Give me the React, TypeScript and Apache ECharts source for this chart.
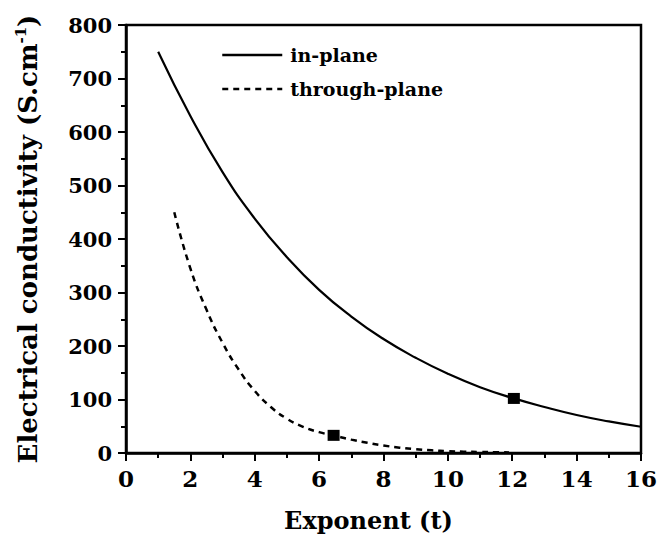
import React, { useEffect, useRef } from "react";
import * as echarts from "echarts";

const inPlaneT = [1, 2, 3, 4, 5, 6, 7, 8, 9, 10, 11, 12, 13, 14, 15, 16];
const inPlaneSigma = [750, 630, 525, 438, 366, 305, 255, 213, 178, 148, 123, 103, 86, 71, 59, 49];

const throughT = [1.5, 2, 2.5, 3, 3.5, 4, 4.5, 5, 5.5, 6, 6.5, 7, 7.5, 8, 8.5, 9, 9.5, 10, 10.5, 11, 11.5, 11.9];
const throughSigma = [450, 345, 268, 206, 156, 116, 86, 64, 49, 39, 32, 25, 19, 14, 10, 7, 5, 3.5, 2.5, 2, 1.5, 1];

const markerT = [12.05, 6.45];
const markerSigma = [102, 33];

const seriesNames = ["in-plane", "through-plane"];

const FONT = "DejaVu Serif";

export default function App() {
  const ref = useRef<HTMLDivElement>(null);
  useEffect(() => {
    if (!ref.current) return;
    const chart = echarts.init(ref.current, null, { renderer: "svg" });
    const axisCommon = {
      axisLine: { show: true, onZero: false, lineStyle: { color: "#000", width: 2.5 } },
      axisTick: { show: true, inside: false, length: 8, lineStyle: { color: "#000", width: 2 } },
      minorTick: { show: true, splitNumber: 2, length: 5, lineStyle: { color: "#000", width: 2 } },
      splitLine: { show: false },
      minorSplitLine: { show: false },
    };
    chart.setOption({
      animation: false,
      backgroundColor: "#fff",
      grid: {
        left: 126,
        right: 15,
        top: 25,
        bottom: 90,
        show: true,
        borderColor: "#000",
        borderWidth: 2.5,
        containLabel: false,
      },
      legend: {
        data: seriesNames.map((n) => ({ name: n, itemStyle: { opacity: 0 } })),
        orient: "vertical",
        left: 216,
        top: 40,
        itemWidth: 60,
        itemHeight: 14,
        itemGap: 14,
        lineStyle: { width: 2.5 },
        textStyle: {
          fontFamily: FONT,
          fontWeight: "bold",
          fontSize: 19,
          lineHeight: 20,
          color: "#000",
          padding: [0, 0, 0, 3],
        },
      },
      xAxis: {
        type: "value",
        min: 0,
        max: 16,
        interval: 2,
        name: "Exponent (t)",
        nameLocation: "middle",
        nameGap: 55,
        nameTextStyle: {
          fontFamily: FONT,
          fontWeight: "bold",
          fontSize: 24,
          color: "#000",
          padding: [0, 30, 0, 0],
        },
        axisLabel: {
          fontFamily: FONT,
          fontWeight: "bold",
          fontSize: 23,
          color: "#000",
          margin: 14,
        },
        ...axisCommon,
      },
      yAxis: {
        type: "value",
        min: 0,
        max: 800,
        interval: 100,
        name: "Electrical conductivity (S.cm{sup|-1})",
        nameLocation: "middle",
        nameGap: 63,
        nameRotate: 90,
        nameTextStyle: {
          fontFamily: FONT,
          fontWeight: "bold",
          fontSize: 26,
          lineHeight: 30,
          color: "#000",
          padding: [0, 0, 14, 0],
          rich: {
            sup: {
              fontFamily: FONT,
              fontWeight: "bold",
              fontSize: 15,
              lineHeight: 15,
              verticalAlign: "top",
              color: "#000",
            },
          },
        },
        axisLabel: {
          fontFamily: FONT,
          fontWeight: "bold",
          fontSize: 21,
          color: "#000",
          margin: 14,
        },
        ...axisCommon,
      },
      series: [
        {
          name: seriesNames[0],
          type: "line",
          smooth: 0.5,
          symbol: "none",
          showSymbol: false,
          lineStyle: { color: "#000", width: 2.2, type: "solid" },
          itemStyle: { color: "#000" },
          data: inPlaneT.map((t, i) => [t, inPlaneSigma[i]]),
          z: 3,
        },
        {
          name: seriesNames[1],
          type: "line",
          smooth: 0.5,
          symbol: "none",
          showSymbol: false,
          lineStyle: { color: "#000", width: 2.5, type: [6, 5] },
          itemStyle: { color: "#000" },
          data: throughT.map((t, i) => [t, throughSigma[i]]),
          z: 3,
        },
        {
          name: "markers",
          type: "scatter",
          symbol: "rect",
          symbolSize: [12, 11],
          itemStyle: { color: "#000", opacity: 1 },
          data: markerT.map((t, i) => [t, markerSigma[i]]),
          z: 5,
        },
      ],
    });
    return () => chart.dispose();
  }, []);
  return (
    <div
      ref={ref}
      style={{ position: "fixed", left: 0, top: 0, width: 660, height: 543, background: "#fff" }}
    />
  );
}
